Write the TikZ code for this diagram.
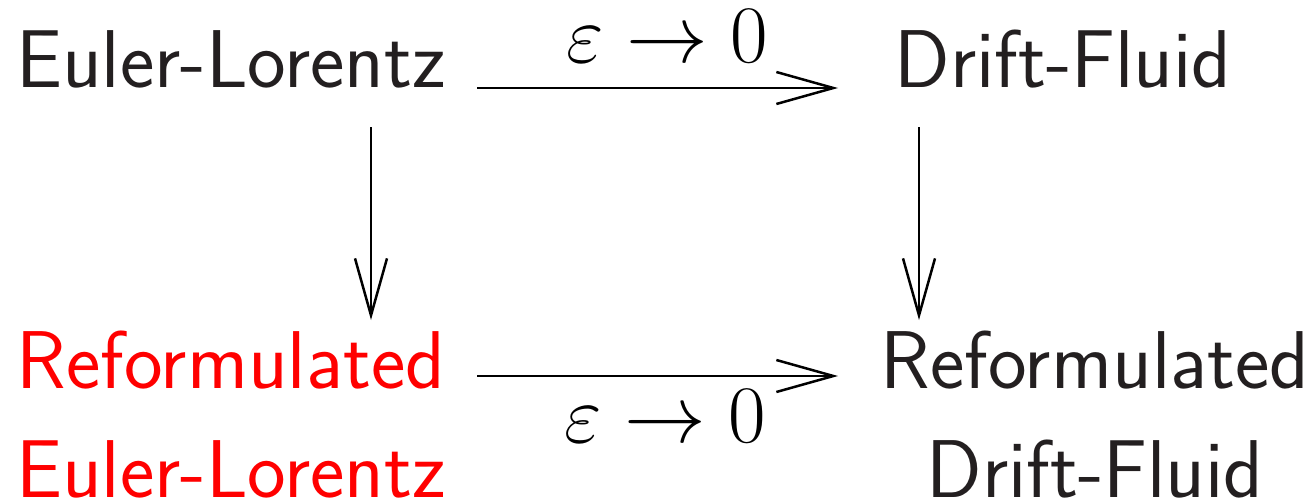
\documentclass[tikz,border=0pt]{standalone}
\usepackage{graphicx}
\usetikzlibrary{arrows.meta}
\definecolor{ink}{RGB}{35,31,32}
\newcommand{\epslim}{\scalebox{3.28}{\fontsize{24.88}{30}\selectfont$\varepsilon\to0$}}
\begin{document}
\begin{tikzpicture}[x=1pt,y=-1pt,
  lbl/.style={anchor=base,inner sep=0pt,text=ink,font=\fontsize{82}{84}\selectfont\sffamily},
  mlbl/.style={anchor=base,inner sep=0pt},
  arr/.style={line width=2.5pt,-{Straight Barb[length=57pt,width=32pt,line width=2.5pt]}}]
\useasboundingbox (0,0) rectangle (1311,503);
\node[lbl] (el) at (231,87) {Euler-Lorentz};
\node[lbl] (df) at (1063,87) {Drift-Fluid};
\node[lbl,text=red] (rel1) at (231,388) {Reformulated};
\node[lbl,text=red] (rel2) at (231,497) {Euler-Lorentz};
\node[lbl] (rdf1) at (1095,388) {Reformulated};
\node[lbl] (rdf2) at (1095,497) {Drift-Fluid};
\coordinate (t1) at (477,88);
\coordinate (t2) at (838,88);
\coordinate (b1) at (477,376);
\coordinate (b2) at (838,376);
\coordinate (l1) at (371,127);
\coordinate (l2) at (371,320);
\coordinate (r1) at (919,127);
\coordinate (r2) at (919,320);
\draw[arr] (t1) -- (t2);
\draw[arr] (b1) -- (b2);
\draw[arr] (l1) -- (l2);
\draw[arr] (r1) -- (r2);
\node[mlbl] (ta) at (667,63) {\epslim};
\node[mlbl] (ba) at (665,442) {\epslim};
\end{tikzpicture}
\end{document}
